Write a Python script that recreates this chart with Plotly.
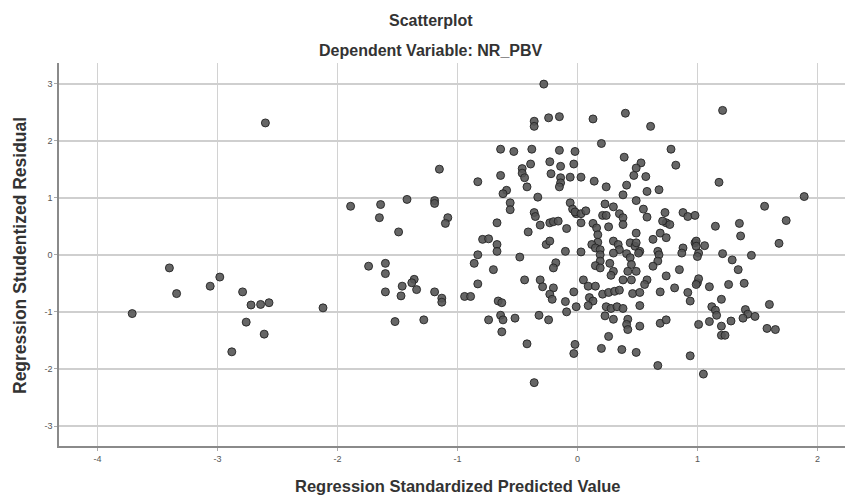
import plotly.graph_objects as go

# Regression Standardized Predicted Value
x_pred = [
    -2.60, -3.40, -3.34, -3.71, -3.06, -2.98, -2.79, -2.72, -2.64, -2.57, -2.76, -2.61, -2.88, -2.12,
    -1.15, -1.89, -1.64, -1.42, -1.19, -1.19, -1.65, -1.08, -1.10, -1.49, -1.74, -1.60, -1.60, -1.36,
    -1.38, -1.46, -1.34, -1.60, -1.47, -1.19, -1.13, -1.13, -1.52, -1.28,
    -0.28, -0.36, -0.36, -0.24, -0.15, -0.64, -0.53, -0.38, -0.15, -0.02, -0.23, -0.39, -0.14, -0.03,
    -0.46, -0.46, -0.44, -0.64, -0.22, -0.14, -0.06, -0.14, -0.15, -0.83, -0.42, -0.59, -0.62, -0.33,
    -0.56, -0.56, -0.06, -0.04, -0.01, -0.36, -0.35, -0.67, -0.23, -0.20, -0.16, -0.31, -0.09, -0.41,
    -0.79, -0.74, -0.67, -0.67, -0.83, -0.48, -0.26, -0.23, -0.10,
    -0.86, -0.18, -0.20, -0.70, -0.83, -0.44, -0.31, -0.29, -0.20, -0.23, -0.21, -0.03, -0.10, -0.01,
    -0.09, -0.94, -0.89, -0.66, -0.63, -0.64, -0.62, -0.74, -0.52, -0.32, -0.24, -0.63, -0.42, -0.36,
    -0.02, -0.03,
    0.13, 0.40, 0.61, 0.20, 0.78, 0.82, 0.39, 0.53, 0.49, 0.47, 0.57, 0.03, 0.14, 0.24, 0.41, 0.58,
    0.68, 0.38, 0.49, 0.23, 0.30, 0.55, -0.02, 0.03, 0.07, 0.21, 0.24, 0.35, 0.38, 0.58, 0.73, 0.74,
    0.88, 0.92, 0.98, 0.03, 0.13, 0.16, 0.26, 0.38, 0.71, 0.77, 0.49, 0.69, 0.74, 0.63, 0.17, 0.17,
    0.12, 0.15, 0.19, 0.30, 0.34, 0.35, 0.44, 0.48, 0.52, 0.49, 0.67, 0.88, 0.98, 0.03,
    0.19, 0.19, 0.15, 0.19, 0.30, 0.41, 0.51, 0.27, 0.30, 0.28, 0.44, 0.45, 0.42, 0.49, 0.38, 0.45,
    0.58, 0.56, 0.68, 0.67, 0.63, 0.74, 0.85, 0.87, 1.01, 1.00, 0.81, 0.69, 0.92, 0.94, 0.05, 0.09,
    0.15, 0.21, 0.26, 0.31, 0.35, 0.10, 0.13, 0.09, 0.24, 0.28, 0.33, 0.38, 0.23, 0.30, 0.46, 0.52,
    0.52, 0.42, 0.41, 0.42, 0.52, 0.69, 0.74, 0.26, 0.20, 0.37, 0.49, 0.67, 0.94, 1.01,
    1.21, 1.18, 1.89, 1.56, 1.74, 1.68, 1.35, 1.36, 1.15, 0.99, 0.99, 1.06, 1.00, 1.21, 1.29, 1.34,
    1.45, 1.01, 0.99, 1.10, 1.26, 1.39, 1.20, 1.12, 1.15, 1.16, 1.60, 1.40, 1.42, 1.48, 1.38, 1.28,
    1.10, 1.20, 1.20, 1.23, 1.58, 1.65, 1.05,
]

# Regression Studentized Residual
y_resid = [
    2.31, -0.23, -0.68, -1.03, -0.55, -0.39, -0.65, -0.88, -0.87, -0.84, -1.18, -1.39, -1.70, -0.93,
    1.50, 0.85, 0.88, 0.97, 0.95, 0.90, 0.65, 0.65, 0.55, 0.40, -0.20, -0.15, -0.33, -0.43,
    -0.49, -0.55, -0.61, -0.65, -0.72, -0.65, -0.76, -0.83, -1.17, -1.14,
    2.99, 2.34, 2.25, 2.40, 2.42, 1.85, 1.81, 1.85, 1.83, 1.81, 1.63, 1.59, 1.55, 1.59,
    1.51, 1.43, 1.35, 1.39, 1.42, 1.35, 1.36, 1.26, 1.19, 1.28, 1.19, 1.13, 1.07, 1.01,
    0.91, 0.79, 0.91, 0.80, 0.72, 0.74, 0.67, 0.56, 0.56, 0.58, 0.59, 0.52, 0.46, 0.40,
    0.27, 0.28, 0.18, 0.06, 0.00, -0.04, 0.18, 0.24, 0.06,
    -0.15, -0.14, -0.23, -0.26, -0.51, -0.44, -0.44, -0.56, -0.58, -0.69, -0.78, -0.65, -0.82, -0.91,
    -1.00, -0.73, -0.73, -0.81, -0.84, -1.06, -1.14, -1.14, -1.11, -1.06, -1.14, -1.35, -1.56, -2.24,
    -1.57, -1.73,
    2.38, 2.48, 2.25, 1.95, 1.85, 1.57, 1.71, 1.61, 1.52, 1.39, 1.37, 1.36, 1.29, 1.19, 1.22, 1.11,
    1.14, 1.05, 0.95, 0.89, 0.84, 0.80, 0.75, 0.72, 0.77, 0.69, 0.69, 0.72, 0.65, 0.66, 0.74, 0.56,
    0.74, 0.67, 0.69, 0.56, 0.55, 0.47, 0.49, 0.53, 0.59, 0.53, 0.38, 0.38, 0.30, 0.27, 0.35, 0.22,
    0.18, 0.12, 0.09, 0.24, 0.18, 0.09, 0.21, 0.15, 0.06, 0.21, 0.06, 0.12, 0.21, 0.05,
    0.00, -0.11, -0.19, -0.23, 0.03, 0.02, 0.03, -0.15, -0.29, -0.36, -0.05, -0.17, -0.29, -0.29, -0.44, -0.44,
    -0.44, -0.52, 0.00, -0.11, -0.20, -0.37, -0.26, 0.03, 0.03, -0.49, -0.58, -0.65, -0.66, -0.81, -0.44, -0.55,
    -0.55, -0.69, -0.66, -0.64, -0.62, -0.75, -0.81, -0.89, -0.91, -0.94, -0.91, -0.94, -1.07, -1.13, -0.68, -0.66,
    -0.89, -1.13, -1.22, -1.31, -1.25, -1.20, -1.14, -1.43, -1.64, -1.66, -1.71, -1.94, -1.77, -1.22,
    2.53, 1.27, 1.02, 0.85, 0.60, 0.20, 0.55, 0.33, 0.50, 0.24, 0.15, 0.16, -0.03, 0.02, -0.09, -0.26,
    -0.01, -0.42, -0.52, -0.56, -0.52, -0.50, -0.78, -0.91, -0.97, -1.06, -0.87, -0.96, -1.04, -1.08, -1.11, -1.16,
    -1.17, -1.25, -1.41, -1.41, -1.29, -1.31, -2.09,
]

x_ticks = [-4, -3, -2, -1, 0, 1, 2]
y_ticks = [-3, -2, -1, 0, 1, 2, 3]

title_text = "Scatterplot"
subtitle_text = "Dependent Variable: NR_PBV"
x_title = "Regression Standardized Predicted Value"
y_title = "Regression Studentized Residual"

FONT = "Liberation Sans, Arial, sans-serif"

fig = go.Figure(
    go.Scatter(
        x=x_pred,
        y=y_resid,
        mode="markers",
        marker=dict(
            size=8,
            color="rgba(85,85,85,0.9)",
            line=dict(color="rgba(35,35,35,0.9)", width=1),
        ),
        hoverinfo="x+y",
    )
)

fig.update_layout(
    width=845,
    height=495,
    margin=dict(l=59, r=0, t=63, b=49),
    paper_bgcolor="white",
    plot_bgcolor="white",
    showlegend=False,
    font=dict(family=FONT, color="#333"),
    annotations=[
        dict(text="<b>" + title_text + "</b>", xref="paper", yref="paper",
             x=(431 - 59) / 786, y=1, yshift=43, xanchor="center", yanchor="middle",
             showarrow=False, font=dict(size=16, color="#333", family=FONT)),
        dict(text="<b>" + subtitle_text + "</b>", xref="paper", yref="paper",
             x=(431 - 59) / 786, y=1, yshift=13, xanchor="center", yanchor="middle",
             showarrow=False, font=dict(size=16, color="#333", family=FONT)),
        dict(text="<b>" + x_title + "</b>", xref="paper", yref="paper",
             x=(458 - 59) / 786, y=0, yshift=-40, xanchor="center", yanchor="middle",
             showarrow=False, font=dict(size=16.5, color="#333", family=FONT)),
        dict(text="<b>" + y_title + "</b>", xref="paper", yref="paper",
             x=0, xshift=-39, y=(446 - 256) / 383, xanchor="center", yanchor="middle",
             textangle=-90, showarrow=False, font=dict(size=17.5, color="#333", family=FONT)),
    ],
)

fig.update_xaxes(
    range=[-4.32, 2.23],
    tickmode="array",
    tickvals=x_ticks,
    ticktext=[str(v) for v in x_ticks],
    showgrid=True,
    gridcolor="#d2d2d2",
    gridwidth=1,
    zeroline=False,
    showline=True,
    linecolor="#8a8a8a",
    linewidth=1.5,
    ticks="outside",
    ticklen=3,
    tickcolor="#aaaaaa",
    tickfont=dict(size=9, color="#555", family=FONT),
)

fig.update_yaxes(
    range=[-3.35, 3.36],
    tickmode="array",
    tickvals=y_ticks,
    ticktext=[str(v) for v in y_ticks],
    showgrid=True,
    gridcolor="#cfcfcf",
    gridwidth=2,
    zeroline=False,
    showline=True,
    linecolor="#8a8a8a",
    linewidth=1.5,
    ticks="outside",
    ticklen=3,
    tickcolor="#aaaaaa",
    tickfont=dict(size=9, color="#555", family=FONT),
)

fig.write_html(
    "out.html",
    config={"displayModeBar": False},
    post_script="document.body.style.margin='0px'; document.body.style.overflow='hidden';",
)
